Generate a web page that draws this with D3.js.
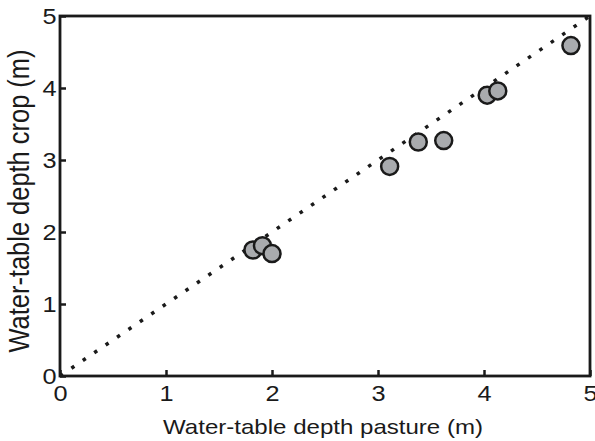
<!DOCTYPE html>
<html>
<head>
<meta charset="utf-8">
<script src="https://cdn.jsdelivr.net/npm/d3@7"></script>
<style>
  body { margin: 0; background: #fff; }
  text { font-family: "Liberation Sans", Arial, sans-serif; fill: #1a1a1a; }
</style>
</head>
<body>
<svg id="chart" width="595" height="441"></svg>
<script>
// water-table depth under pasture vs crop (m)
const pastureDepth = [1.82, 1.91, 2.00, 3.11, 3.38, 3.62, 4.03, 4.13, 4.82];
const cropDepth    = [1.75, 1.81, 1.70, 2.91, 3.25, 3.27, 3.90, 3.96, 4.59];
const xTicks = [0, 1, 2, 3, 4, 5];
const yTicks = [0, 1, 2, 3, 4, 5];
const oneToOne = [[0, 0], [5, 5]];

const W = 595, H = 441;
const m = { left: 60, right: 5, top: 16, bottom: 65 };
const STRETCH = 1.15;   // glyphs in the source are a bit wide

const svg = d3.select('#chart');
const x = d3.scaleLinear().domain([0, 5]).range([m.left, W - m.right]);
const y = d3.scaleLinear().domain([0, 5]).range([H - m.bottom, m.top]);

// 1:1 dotted line
svg.append('path')
  .datum(oneToOne)
  .attr('d', d3.line().x(d => x(d[0])).y(d => y(d[1])))
  .attr('fill', 'none')
  .attr('stroke', '#1a1a1a')
  .attr('stroke-width', 3.5)
  .attr('stroke-dasharray', '3.5 10.3');

// points
svg.append('g').selectAll('circle')
  .data(pastureDepth.map((p, i) => [p, cropDepth[i]]))
  .enter().append('circle')
  .attr('cx', d => x(d[0]))
  .attr('cy', d => y(d[1]))
  .attr('r', 8.5)
  .attr('fill', '#a9abae')
  .attr('stroke', '#1a1a1a')
  .attr('stroke-width', 2.5);

// axes (ticks inside)
const xAxis = svg.append('g')
  .attr('transform', `translate(0,${y(0)})`)
  .call(d3.axisBottom(x).tickValues(xTicks).tickFormat(d3.format('d'))
    .tickSizeInner(-6).tickSizeOuter(0));
const yAxis = svg.append('g')
  .attr('transform', `translate(${x(0)},0)`)
  .call(d3.axisLeft(y).tickValues(yTicks).tickFormat(d3.format('d'))
    .tickSizeInner(-6).tickSizeOuter(0));

[xAxis, yAxis].forEach(a => {
  a.select('.domain').remove();
  a.selectAll('line').attr('stroke', '#1a1a1a').attr('stroke-width', 2.5);
  a.selectAll('text').style('font-size', '22px').attr('fill', '#1a1a1a');
});
xAxis.selectAll('text')
  .attr('y', null).attr('dy', null)
  .attr('transform', `translate(0,25) scale(${STRETCH},1)`);
yAxis.selectAll('text')
  .attr('x', null)
  .attr('transform', `translate(-3.5,0) scale(${STRETCH},1)`);

// frame
svg.append('rect')
  .attr('x', x(0)).attr('y', y(5))
  .attr('width', x(5) - x(0)).attr('height', y(0) - y(5))
  .attr('fill', 'none')
  .attr('stroke', '#1a1a1a')
  .attr('stroke-width', 2.8);

// axis titles
svg.append('text')
  .attr('x', 323).attr('y', 434)
  .attr('text-anchor', 'middle')
  .attr('textLength', 320)
  .attr('lengthAdjust', 'spacingAndGlyphs')
  .style('font-size', '21px')
  .text('Water-table depth pasture (m)');
svg.append('text')
  .attr('transform', `translate(29,201) rotate(-90) scale(1,${STRETCH})`)
  .attr('text-anchor', 'middle')
  .attr('textLength', 303)
  .attr('lengthAdjust', 'spacingAndGlyphs')
  .style('font-size', '25px')
  .text('Water-table depth crop (m)');
</script>
</body>
</html>
